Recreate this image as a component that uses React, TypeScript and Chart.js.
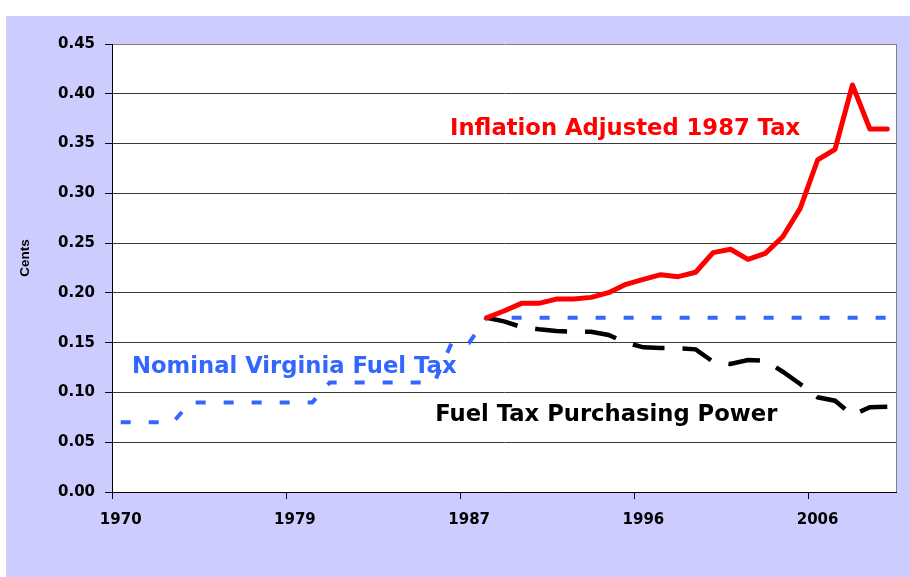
import React, { useEffect, useRef } from 'react';
import { Chart, registerables } from 'chart.js';

Chart.register(...registerables);

// Category axis (some years appear twice where the tax rate changed mid-year)
const years = [
  '1970', '1971', '1972', '1973', '1973', '1974', '1975', '1976', '1977', '1978',
  '1979', '1980', '1980', '1981', '1982', '1983', '1984', '1985', '1986', '1986',
  '1987', '1987', '1988', '1989', '1990', '1991', '1992', '1993', '1994', '1995',
  '1996', '1997', '1998', '1999', '2000', '2001', '2002', '2003', '2004', '2005',
  '2006', '2007', '2008', '2009', '2010',
];

// Show a label every 10 categories
const labelEvery = 10;

const yTickLabels = ['0.00', '0.05', '0.10', '0.15', '0.20', '0.25', '0.30', '0.35', '0.40', '0.45'];

const nominalTax = [
  0.07, 0.07, 0.07, 0.07, 0.09, 0.09, 0.09, 0.09, 0.09, 0.09,
  0.09, 0.09, 0.11, 0.11, 0.11, 0.11, 0.11, 0.11, 0.11, 0.15,
  0.15, 0.175, 0.175, 0.175, 0.175, 0.175, 0.175, 0.175, 0.175, 0.175,
  0.175, 0.175, 0.175, 0.175, 0.175, 0.175, 0.175, 0.175, 0.175, 0.175,
  0.175, 0.175, 0.175, 0.175, 0.175,
];

const inflationAdjusted = [
  null, null, null, null, null, null, null, null, null, null,
  null, null, null, null, null, null, null, null, null, null,
  null, 0.175, 0.1818, 0.1895, 0.1895, 0.1938, 0.1938, 0.1955, 0.2002, 0.2086,
  0.2136, 0.2183, 0.2163, 0.2207, 0.2404, 0.2438, 0.2337, 0.2397, 0.2564, 0.2849,
  0.3335, 0.3442, 0.4088, 0.3646, 0.3646,
];

const purchasingPower = [
  null, null, null, null, null, null, null, null, null, null,
  null, null, null, null, null, null, null, null, null, null,
  null, 0.175, 0.1714, 0.1657, 0.1634, 0.1617, 0.161, 0.161, 0.1577, 0.15,
  0.1453, 0.1446, 0.1443, 0.1433, 0.1309, 0.1286, 0.1326, 0.1319, 0.1208, 0.1085,
  0.0951, 0.0917, 0.0773, 0.0851, 0.0857,
];

const seriesNames = ['Inflation Adjusted 1987 Tax', 'Fuel Tax Purchasing Power', 'Nominal Virginia Fuel Tax'];
const yAxisTitle = 'Cents';

// Annotation anchors in data coordinates (category index, value)
const annotationStyle = [
  { text: seriesNames[0], color: '#FF0000', at: [18.9, 0.3586] },
  { text: seriesNames[2], color: '#3366FF', at: [0.65, 0.1195] },
  { text: seriesNames[1], color: '#000000', at: [18.05, 0.0713] },
];

const LAVENDER = '#CCCCFF';

const backgroundPlugin = {
  id: 'bg',
  beforeDraw(chart: any) {
    const { ctx, width, height, chartArea } = chart;
    ctx.save();
    ctx.fillStyle = '#FFFFFF';
    ctx.fillRect(0, 0, width, height);
    ctx.fillStyle = LAVENDER;
    ctx.fillRect(6, 16, width - 6, height - 16);
    ctx.fillStyle = '#FFFFFF';
    ctx.fillRect(chartArea.left, chartArea.top, chartArea.right - chartArea.left, chartArea.bottom - chartArea.top);
    ctx.restore();
  },
  afterDraw(chart: any) {
    const { ctx, chartArea, scales } = chart;
    ctx.save();
    // right border of plot area
    ctx.strokeStyle = '#808080';
    ctx.lineWidth = 1;
    ctx.beginPath();
    ctx.moveTo(Math.round(chartArea.right) + 0.5, chartArea.top);
    ctx.lineTo(Math.round(chartArea.right) + 0.5, chartArea.bottom);
    ctx.stroke();

    // axis title
    ctx.fillStyle = '#000000';
    ctx.font = 'bold 13.5px "Liberation Sans", Arial, sans-serif';
    ctx.textAlign = 'center';
    ctx.textBaseline = 'middle';
    ctx.translate(25.5, 258);
    ctx.rotate(-Math.PI / 2);
    ctx.fillText(yAxisTitle, 0, 0);
    ctx.restore();

    ctx.save();
    ctx.font = 'bold 22.7px "DejaVu Sans", sans-serif';
    ctx.textAlign = 'left';
    ctx.textBaseline = 'alphabetic';
    for (const a of annotationStyle) {
      ctx.fillStyle = a.color;
      const x = scales.x.getPixelForValue(a.at[0]);
      const y = scales.y.getPixelForValue(a.at[1]);
      ctx.fillText(a.text, x, y);
    }
    ctx.restore();
  },
};

export default function App() {
  const ref = useRef<HTMLCanvasElement>(null);

  useEffect(() => {
    const canvas = ref.current;
    if (!canvas) return;
    const tickFont = { family: '"DejaVu Sans", sans-serif', size: 15, weight: 'bold' as const };
    const chart = new Chart(canvas, {
      type: 'line',
      data: {
        labels: years,
        datasets: [
          {
            label: seriesNames[0],
            data: inflationAdjusted,
            borderColor: '#FF0000',
            backgroundColor: '#FF0000',
            borderWidth: 5,
            pointRadius: 0,
            borderJoinStyle: 'round',
            borderCapStyle: 'round',
            tension: 0,
          },
          {
            label: seriesNames[1],
            data: purchasingPower,
            borderColor: '#000000',
            backgroundColor: '#000000',
            borderWidth: 4.5,
            borderDash: [32, 18],
            pointRadius: 0,
            tension: 0,
          },
          {
            label: seriesNames[2],
            data: nominalTax,
            borderColor: '#3366FF',
            backgroundColor: '#3366FF',
            borderWidth: 4,
            borderDash: [10, 18],
            pointRadius: 0,
            tension: 0,
          },
        ],
      },
      options: {
        animation: false,
        responsive: false,
        maintainAspectRatio: false,
        layout: { padding: { left: 0, top: 44, right: 14, bottom: 0 } },
        plugins: {
          legend: { display: false },
          tooltip: { enabled: false },
          title: { display: false },
        },
        scales: {
          x: {
            type: 'category',
            offset: true,
            grid: {
              display: true,
              drawOnChartArea: false,
              drawTicks: true,
              tickLength: 7,
              offset: true,
              color: (c: any) => (typeof c.index === 'number' && c.index % labelEvery === 0 ? '#000000' : 'rgba(0,0,0,0)'),
              tickColor: (c: any) => (typeof c.index === 'number' && c.index % labelEvery === 0 ? '#000000' : 'rgba(0,0,0,0)'),
            },
            border: { display: true, color: '#000000', width: 1 },
            ticks: {
              autoSkip: false,
              maxRotation: 0,
              minRotation: 0,
              padding: 12,
              color: '#000000',
              font: tickFont,
              callback: (_v: any, i: number) => (i % labelEvery === 0 ? years[i] : ''),
            },
            afterFit: (s: any) => {
              s.height = 85;
            },
          },
          y: {
            min: 0,
            max: 0.45,
            grid: {
              color: (c: any) => (c.tick && Math.abs(c.tick.value - 0.45) < 1e-6 ? '#808080' : '#3a3a3a'),
              tickColor: '#000000',
              tickLength: 7,
              lineWidth: 1,
            },
            border: { display: true, color: '#000000', width: 1 },
            ticks: {
              stepSize: 0.05,
              padding: 10,
              color: '#000000',
              font: tickFont,
              callback: (_v: any, i: number) => yTickLabels[i],
            },
            afterFit: (s: any) => {
              s.width = 112;
            },
          },
        },
      },
      plugins: [backgroundPlugin],
    });
    return () => chart.destroy();
  }, []);

  return (
    <div style={{ position: 'fixed', left: 0, top: 0, width: 910, height: 577, background: '#FFFFFF' }}>
      <canvas ref={ref} width={910} height={577} style={{ display: 'block', width: 910, height: 577 }} />
    </div>
  );
}
